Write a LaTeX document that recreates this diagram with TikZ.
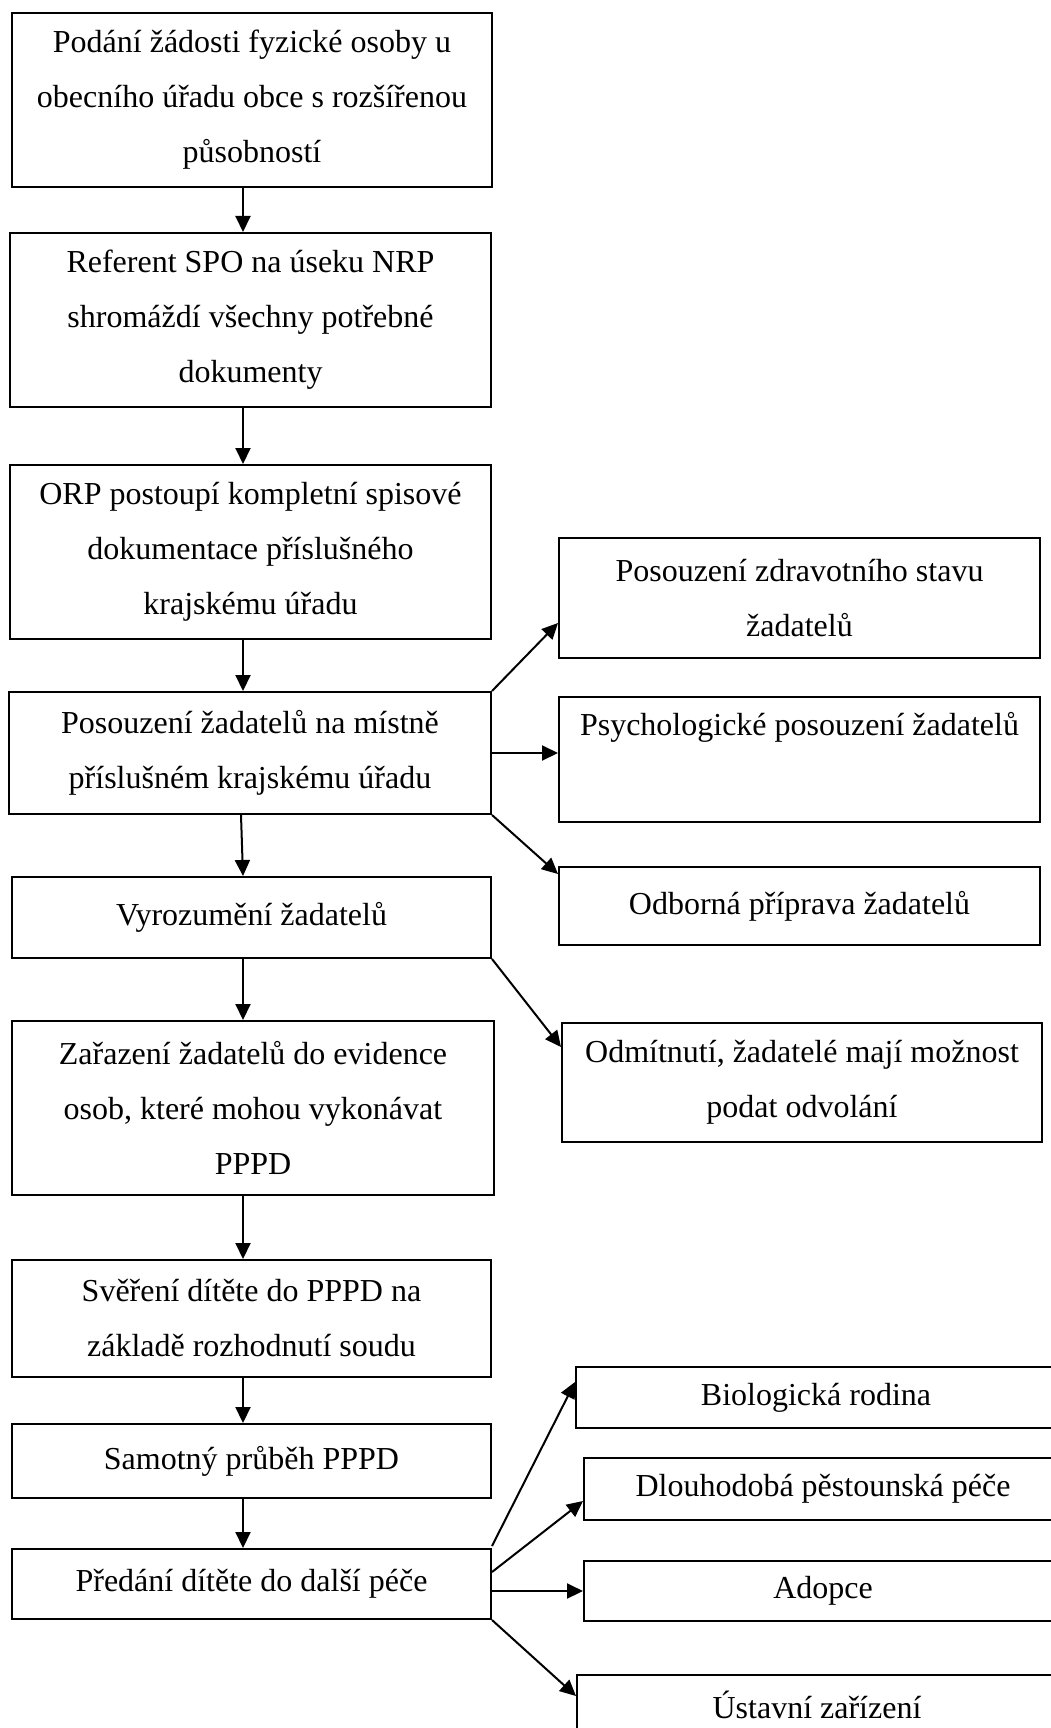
\documentclass[tikz,border=0pt]{standalone}
\usepackage{fontspec}
\setmainfont{Liberation Serif}
\usetikzlibrary{arrows.meta,calc}
\begin{document}
\begin{tikzpicture}[x=1pt,y=-1pt,
  box/.style={draw, line width=2pt, inner sep=0pt, align=center,
    font=\fontsize{32}{55}\selectfont},
  arr/.style={line width=2pt, -{Triangle[length=16pt,width=15pt]}}]
\useasboundingbox (0,0) rectangle (1051,1728);
\clip (0,0) rectangle (1051,1728);
\fill[white] (0,0) rectangle (1051,1728);
% left column
\node[box, minimum width=480, minimum height=174] (b1) at (252,100)
  {Podání žádosti fyzické osoby u\\obecního úřadu obce s rozšířenou\\působností};
\node[box, minimum width=481, minimum height=174] (b2) at (250.5,320)
  {Referent SPO na úseku NRP\\shromáždí všechny potřebné\\dokumenty};
\node[box, minimum width=481, minimum height=174] (b3) at (250.5,552)
  {ORP postoupí kompletní spisové\\dokumentace příslušného\\krajskému úřadu};
\node[box, minimum width=482, minimum height=122] (b4) at (250,753)
  {Posouzení žadatelů na místně\\příslušném krajskému úřadu};
\node[box, minimum width=479, minimum height=81] (b5) at (251.5,917.5)
  {Vyrozumění žadatelů};
\node[box, minimum width=482, minimum height=174] (b6) at (253,1108)
  {Zařazení žadatelů do evidence\\osob, které mohou vykonávat\\PPPD};
\node[box, minimum width=479, minimum height=117] (b7) at (251.5,1318.5)
  {Svěření dítěte do PPPD na\\základě rozhodnutí soudu};
\node[box, minimum width=479, minimum height=74] (b8) at (251.5,1461)
  {Samotný průběh PPPD};
\node[box, minimum width=479, minimum height=70] (b9) at (251.5,1584)
  {Předání dítěte do další péče};
% right column
\node[box, minimum width=481, minimum height=120] (ra) at (799.5,598)
  {Posouzení zdravotního stavu\\žadatelů};
\node[box, minimum width=481, minimum height=125] (rb) at (799.5,759.5)
  {Psychologické posouzení žadatelů\\\strut};
\node[box, minimum width=481, minimum height=78] (rc) at (799.5,906)
  {Odborná příprava žadatelů};
\node[box, minimum width=480, minimum height=119] (rd) at (802,1082.5)
  {Odmítnutí, žadatelé mají možnost\\podat odvolání};
\node[box, minimum width=480, minimum height=61] (re) at (816,1397.5)
  {Biologická rodina};
\node[box, minimum width=478, minimum height=62] (rf) at (823,1489)
  {Dlouhodobá pěstounská péče};
\node[box, minimum width=478, minimum height=60] (rg) at (823,1591)
  {Adopce};
\node[box, minimum width=480, minimum height=60] (rh) at (817,1705)
  {Ústavní zařízení};
% vertical connectors
\coordinate (colx) at (243,0);
\draw[arr] (b1.south -| colx) -- (b2.north -| colx);
\draw[arr] (b2.south -| colx) -- (b3.north -| colx);
\draw[arr] (b3.south -| colx) -- (b4.north -| colx);
\draw[arr] ($(b4.south -| colx)+(-2,0)$) -- (b5.north -| colx);
\draw[arr] (b5.south -| colx) -- (b6.north -| colx);
\draw[arr] (b6.south -| colx) -- (b7.north -| colx);
\draw[arr] (b7.south -| colx) -- (b8.north -| colx);
\draw[arr] (b8.south -| colx) -- (b9.north -| colx);
% branches
\draw[arr] (b4.north east) -- ($(ra.south west)+(0,-36)$);
\draw[arr] (b4.east) -- (b4.east -| rb.west);
\draw[arr] (b4.south east) -- ($(rc.north west)+(0,8)$);
\draw[arr] (b5.south east) -- ($(rd.north west)+(0,25)$);
\draw[arr] ($(b9.north east)+(0,-2)$) -- ($(re.north west)+(0,16)$);
\draw[arr] ($(b9.north east)+(0,24)$) -- ($(rf.south west)+(0,-20)$);
\draw[arr] (rg.west -| b9.east) -- (rg.west);
\draw[arr] (b9.south east) -- ($(rh.north west)+(0,22)$);
\end{tikzpicture}
\end{document}
